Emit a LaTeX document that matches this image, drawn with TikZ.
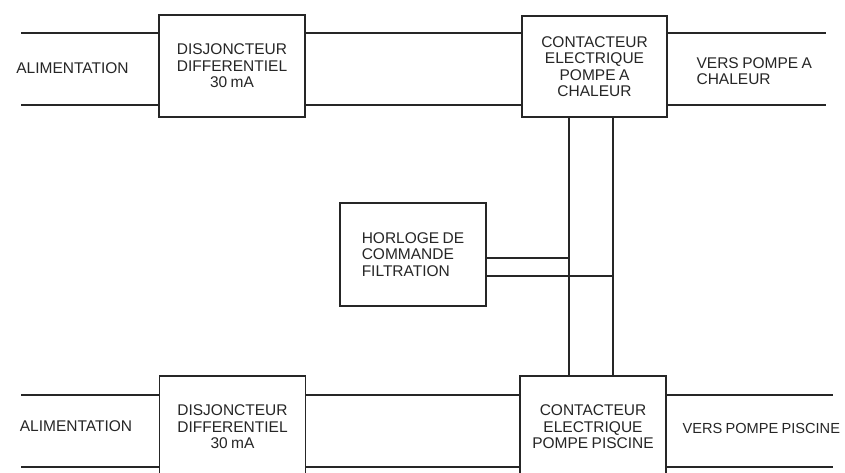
\documentclass[tikz,border=0pt]{standalone}
\usepackage{fontspec}
\setmainfont{Liberation Sans}[WordSpace=0.8]

\begin{document}
\begin{tikzpicture}[x=1pt, y=-1pt, line width=1.2pt, color=black!85,
    every node/.style={font=\fontsize{15.5}{16.5}\selectfont, inner sep=0pt},
    box/.style={draw, rectangle, minimum width=146pt, minimum height=102pt, align=center},
    lbl/.style={anchor=west, align=left}]
    \clip (0,0) rectangle (845,472);
    \fill[white] (0,0) rectangle (845,472);

    \node[box] (disjA) at (232,66) {DISJONCTEUR\\DIFFERENTIEL\\30 mA};
    \node[box, minimum width=145pt, minimum height=101pt] (contactA) at (594.5,66.5) {CONTACTEUR\\ELECTRIQUE\\POMPE A\\CHALEUR};
    \node[box, minimum height=103pt, align=left] (horloge) at (413,254.5) {HORLOGE DE\\COMMANDE\\FILTRATION};
    \node[box] (disjB) at (232.5,427) {DISJONCTEUR\\DIFFERENTIEL\\30 mA};
    \node[box] (contactB) at (593,427) {CONTACTEUR\\ELECTRIQUE\\POMPE PISCINE};

    \node (alimA) at (72.5,68) {ALIMENTATION};
    \node (alimB) at (76,426) {ALIMENTATION};
    \node[lbl] (versA) at (696,71) {VERS POMPE A\\CHALEUR};
    \node[lbl, font=\fontsize{14.6}{16.5}\selectfont] (versB) at (682,428) {VERS POMPE PISCINE};

    \coordinate (inA) at (21,33);  \coordinate (outA) at (826,33);
    \coordinate (inA2) at (21,105); \coordinate (outA2) at (826,105);
    \coordinate (inB) at (21,395);  \coordinate (outB) at (833,395);
    \coordinate (inB2) at (21,467); \coordinate (outB2) at (833,467);
    \foreach \a/\b/\c/\e in {inA/disjA/contactA/outA, inA2/disjA/contactA/outA2,
                             inB/disjB/contactB/outB, inB2/disjB/contactB/outB2}
        \draw (\a) -- (\a -| \b.west) (\a -| \b.east) -- (\a -| \c.west) (\a -| \c.east) -- (\e);

    \coordinate (vl) at (569,0); \coordinate (vr) at (613,0);
    \draw (contactA.south -| vl) -- (contactB.north -| vl);
    \draw (contactA.south -| vr) -- (contactB.north -| vr);

    \coordinate (hA) at (0,258); \coordinate (hB) at (0,276);
    \draw (horloge.east |- hA) -- (vl |- hA);
    \draw (horloge.east |- hB) -- (vr |- hB);
\end{tikzpicture}
\end{document}
